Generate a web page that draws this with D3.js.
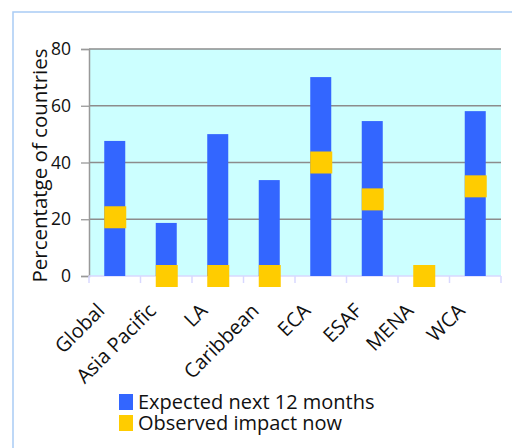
<!DOCTYPE html>
<html>
<head>
<meta charset="utf-8">
<script src="https://cdn.jsdelivr.net/npm/d3@7"></script>
<style>
  html, body { margin: 0; padding: 0; background: #ffffff; }
  svg { display: block; }
  text { font-family: "Open Sans", "Lato", sans-serif; fill: #111; }
</style>
</head>
<body>
<svg id="chart" width="512" height="448"></svg>
<script>
// Regions and shares of countries (%)
const categories = ["Global", "Asia Pacific", "LA", "Caribbean", "ECA", "ESAF", "MENA", "WCA"];
const expectedNext12 = [47.6, 18.7, 50.0, 33.8, 70.1, 54.6, 0, 58.1];
const observedNow = [20.7, 0, 0, 0, 40.0, 27.0, 0, 31.6];
const yTicks = [0, 20, 40, 60, 80];
const seriesNames = ["Expected next 12 months", "Observed impact now"];
const seriesColors = ["#3366ff", "#ffcc00"];

const svg = d3.select("#chart");

// outer chart frame (only its top and left edges fall inside the view)
svg.append("rect")
  .attr("x", 13).attr("y", 12)
  .attr("width", 560).attr("height", 500)
  .attr("fill", "none")
  .attr("stroke", "#a9ccf5")
  .attr("stroke-width", 1.5);

const plot = { left: 89, right: 501, top: 49, bottom: 276 };

const x = d3.scaleBand().domain(categories).range([plot.left, plot.right]).padding(0);
const y = d3.scaleLinear().domain([0, 80]).range([plot.bottom, plot.top]);

// plot background
svg.append("rect")
  .attr("x", plot.left).attr("y", plot.top)
  .attr("width", plot.right - plot.left).attr("height", plot.bottom - plot.top)
  .attr("fill", "#ccffff");

// horizontal gridlines
svg.append("g")
  .selectAll("line")
  .data(yTicks.filter(t => t > 0))
  .join("line")
  .attr("x1", plot.left).attr("x2", plot.right)
  .attr("y1", d => y(d)).attr("y2", d => y(d))
  .attr("stroke", "#8c8c8c").attr("stroke-width", 1.3);

// y axis
const yAxis = svg.append("g")
  .attr("transform", `translate(${plot.left},0)`)
  .call(d3.axisLeft(y).tickValues(yTicks).tickSize(8).tickPadding(10).tickFormat(d3.format("d")));
yAxis.select(".domain").attr("stroke", "#999").attr("stroke-width", 1.5);
yAxis.selectAll(".tick line").attr("stroke", "#999").attr("stroke-width", 1.3);
yAxis.selectAll(".tick text")
  .style("font-family", "'Open Sans', Lato, sans-serif")
  .style("font-size", "17.5px")
  .attr("fill", "#111");

// x axis line with ticks at band boundaries
const xAxisG = svg.append("g");
xAxisG.append("line")
  .attr("x1", plot.left).attr("x2", plot.right)
  .attr("y1", plot.bottom).attr("y2", plot.bottom)
  .attr("stroke", "#d8d8ff").attr("stroke-width", 1.5);
const boundaries = categories.map(c => x(c)).concat([x(categories[categories.length - 1]) + x.bandwidth()]);
xAxisG.selectAll("line.tk")
  .data(boundaries)
  .join("line")
  .attr("class", "tk")
  .attr("x1", d => d).attr("x2", d => d)
  .attr("y1", plot.bottom).attr("y2", plot.bottom + 7)
  .attr("stroke", "#d8d8ff").attr("stroke-width", 1.5);

// bars: expected next 12 months
const barW = 21;
svg.append("g")
  .selectAll("rect")
  .data(categories.map((c, i) => ({ c, v: expectedNext12[i] })))
  .join("rect")
  .attr("x", d => x(d.c) + x.bandwidth() / 2 - barW / 2)
  .attr("y", d => y(d.v))
  .attr("width", barW)
  .attr("height", d => y(0) - y(d.v))
  .attr("fill", seriesColors[0]);

// square markers: observed impact now
const mk = 22;
svg.append("g")
  .selectAll("rect")
  .data(categories.map((c, i) => ({ c, v: observedNow[i] })))
  .join("rect")
  .attr("x", d => x(d.c) + x.bandwidth() / 2 - barW / 2)
  .attr("y", d => y(d.v) - mk / 2)
  .attr("width", mk)
  .attr("height", mk)
  .attr("fill", seriesColors[1]);

// rotated category labels
svg.append("g")
  .selectAll("text")
  .data(categories)
  .join("text")
  .attr("transform", d => `translate(${x(d) + x.bandwidth() / 2 - 9},${plot.bottom + 36}) rotate(-45)`)
  .attr("text-anchor", "end")
  .style("font-size", "20px")
  .text(d => d);

// y axis title
svg.append("text")
  .attr("transform", `translate(47,${(plot.top + plot.bottom) / 2 + 3}) rotate(-90)`)
  .attr("text-anchor", "middle")
  .style("font-size", "20.5px")
  .text("Percentatge of countries");

// legend
const legend = svg.append("g").attr("transform", "translate(119,394)");
seriesNames.forEach((name, i) => {
  const g = legend.append("g").attr("transform", `translate(0,${i * 21})`);
  g.append("rect").attr("width", 14).attr("height", 16).attr("fill", seriesColors[i]);
  g.append("text").attr("x", 19).attr("y", 14.5).style("font-size", "20px").text(name);
});
</script>
</body>
</html>
